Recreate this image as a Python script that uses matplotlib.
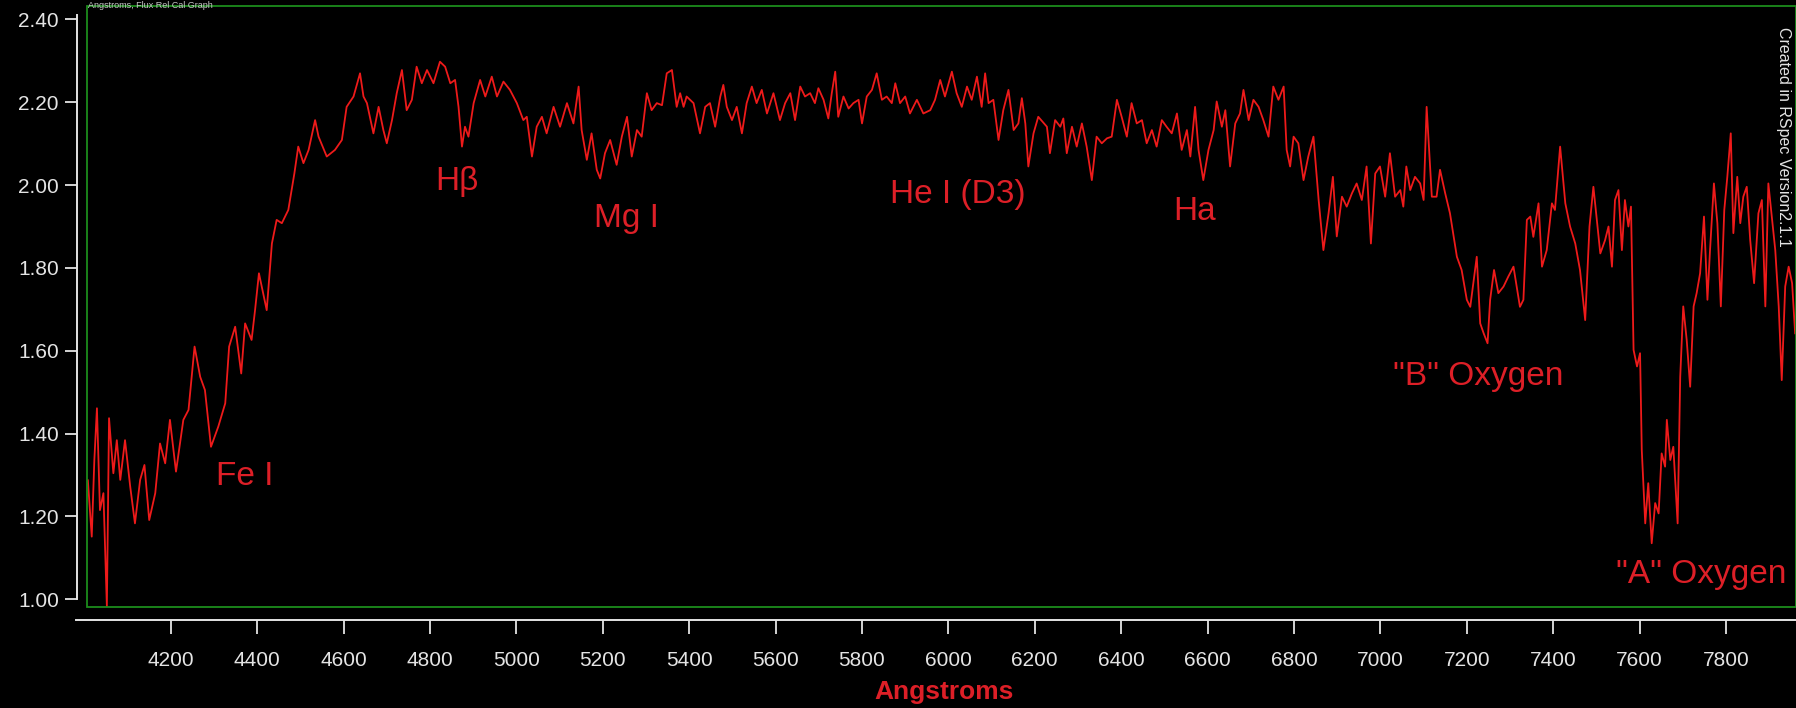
import matplotlib
matplotlib.use("Agg")
import matplotlib.pyplot as plt
from matplotlib.patches import Rectangle
from matplotlib.ticker import FixedLocator, FormatStrFormatter

plt.rcParams['font.family'] = ['Liberation Sans', 'DejaVu Sans']

# ---------------- data ----------------
wavelength = [
    4008, 4017, 4023, 4029, 4036, 4044, 4052, 4057, 4067, 4075, 4083, 4094, 4106, 4117, 4129,
    4139, 4150, 4164, 4175, 4187, 4198, 4212, 4229, 4241, 4255, 4268, 4279, 4293, 4310, 4326,
    4335, 4349, 4363, 4372, 4387, 4395, 4404, 4422, 4434, 4445, 4457, 4472, 4486, 4495, 4507,
    4519, 4534, 4542, 4561, 4580, 4596,
    4607, 4623, 4638, 4646, 4654, 4669, 4681, 4692, 4700, 4712, 4723, 4735, 4746, 4758, 4769,
    4781, 4793, 4808, 4823, 4835, 4847, 4858, 4866, 4874, 4881, 4889, 4901, 4916, 4928, 4943,
    4955, 4970, 4985, 5001, 5016, 5024, 5036, 5047, 5059, 5070, 5086, 5101, 5117, 5132, 5144,
    5151, 5163, 5174, 5186, 5194, 5205, 5217, 5232, 5244, 5256, 5267, 5279, 5290, 5302, 5313,
    5325, 5337, 5348, 5360, 5371, 5379, 5387, 5394, 5410,
    5425, 5437, 5448, 5460, 5472, 5479, 5487, 5499, 5510, 5522, 5533, 5545, 5556, 5568, 5580,
    5595, 5610, 5622, 5634, 5645, 5657, 5668, 5680, 5691, 5699, 5711, 5722, 5730, 5738, 5745,
    5757, 5769, 5780, 5792, 5800, 5811, 5823, 5834, 5846, 5857, 5869, 5877, 5888, 5900, 5911,
    5927, 5942, 5958, 5969, 5981, 5992, 6008, 6019, 6031, 6043, 6054, 6066, 6077, 6085, 6093,
    6104, 6116, 6127, 6139, 6151, 6162, 6170, 6178, 6185, 6197, 6208,
    6228, 6235, 6247, 6259, 6266, 6274, 6286, 6297, 6309, 6320, 6332, 6343, 6355, 6367, 6378,
    6390, 6401, 6413, 6424, 6436, 6448, 6459, 6471, 6482, 6494, 6505, 6517, 6529, 6540, 6552,
    6560, 6571, 6579, 6590, 6602, 6614, 6621, 6633, 6641, 6652, 6664, 6675, 6683, 6695, 6706,
    6718, 6729, 6741, 6752, 6764, 6776, 6783, 6791, 6799, 6810, 6822, 6833, 6845, 6857, 6868,
    6880, 6890, 6899, 6911, 6922, 6934, 6945, 6957, 6968, 6978, 6988, 6999, 7011,
    7022, 7034, 7046, 7053, 7060, 7069, 7080, 7092, 7100, 7107, 7119, 7130, 7138, 7150, 7161,
    7177, 7188, 7200, 7208, 7215, 7223, 7231, 7239, 7248, 7254, 7263, 7273, 7285, 7296, 7308,
    7323, 7331, 7339, 7347, 7354, 7366, 7374, 7385, 7397, 7404, 7416, 7428, 7439, 7451, 7462,
    7474, 7484, 7493,
    7509, 7520, 7528, 7536, 7543, 7551, 7559, 7566, 7574, 7580, 7586, 7594, 7601, 7605, 7613,
    7620, 7628, 7636, 7644, 7651, 7659, 7663, 7671, 7678, 7688, 7694, 7701, 7709, 7717, 7725,
    7732, 7740, 7749, 7757, 7763, 7772, 7780, 7788, 7796, 7803, 7811, 7817, 7826, 7833, 7840,
    7848, 7856, 7865, 7875, 7883, 7891, 7898, 7906, 7914, 7922, 7929, 7937, 7945, 7953, 7960,
]

flux = [
    1.287, 1.151, 1.336, 1.461, 1.215, 1.256, 0.982, 1.437, 1.304, 1.384, 1.288, 1.384, 1.272, 1.183, 1.288,
    1.324, 1.191, 1.256, 1.376, 1.328, 1.433, 1.308, 1.433, 1.457, 1.610, 1.537, 1.505, 1.368, 1.417, 1.473,
    1.610, 1.658, 1.545, 1.666, 1.626, 1.698, 1.787, 1.698, 1.859, 1.916, 1.908, 1.940, 2.028, 2.093, 2.053,
    2.085, 2.157, 2.117, 2.069, 2.085, 2.109,
    2.189, 2.214, 2.270, 2.214, 2.198, 2.125, 2.189, 2.133, 2.101, 2.157, 2.222, 2.278, 2.181, 2.206, 2.286,
    2.246, 2.278, 2.246, 2.298, 2.286, 2.246, 2.254, 2.189, 2.093, 2.141, 2.117, 2.198, 2.254, 2.214, 2.262,
    2.214, 2.250, 2.230, 2.198, 2.157, 2.165, 2.069, 2.141, 2.165, 2.125, 2.189, 2.141, 2.198, 2.149, 2.238,
    2.133, 2.061, 2.125, 2.037, 2.016, 2.077, 2.109, 2.049, 2.117, 2.165, 2.069, 2.133, 2.117, 2.222, 2.181,
    2.198, 2.193, 2.270, 2.278, 2.189, 2.222, 2.189, 2.214, 2.198,
    2.125, 2.189, 2.198, 2.141, 2.214, 2.242, 2.189, 2.157, 2.189, 2.125, 2.198, 2.238, 2.198, 2.230, 2.173,
    2.222, 2.157, 2.198, 2.222, 2.157, 2.238, 2.214, 2.222, 2.198, 2.234, 2.206, 2.161, 2.222, 2.274, 2.165,
    2.214, 2.185, 2.198, 2.206, 2.149, 2.214, 2.230, 2.270, 2.206, 2.214, 2.198, 2.246, 2.198, 2.214, 2.173,
    2.206, 2.173, 2.181, 2.206, 2.254, 2.214, 2.274, 2.222, 2.189, 2.238, 2.206, 2.262, 2.189, 2.270, 2.198,
    2.206, 2.109, 2.181, 2.230, 2.133, 2.149, 2.210, 2.149, 2.045, 2.125, 2.165,
    2.141, 2.077, 2.157, 2.141, 2.161, 2.077, 2.141, 2.093, 2.149, 2.093, 2.012, 2.117, 2.101, 2.113, 2.117,
    2.206, 2.165, 2.117, 2.198, 2.149, 2.157, 2.101, 2.133, 2.093, 2.157, 2.141, 2.125, 2.173, 2.085, 2.133,
    2.069, 2.189, 2.085, 2.012, 2.085, 2.133, 2.202, 2.141, 2.181, 2.045, 2.149, 2.173, 2.230, 2.157, 2.206,
    2.189, 2.157, 2.117, 2.238, 2.206, 2.238, 2.085, 2.045, 2.117, 2.101, 2.012, 2.069, 2.117, 1.964, 1.843,
    1.932, 2.020, 1.876, 1.972, 1.948, 1.980, 2.004, 1.964, 2.045, 1.859, 2.028, 2.045, 1.972,
    2.077, 1.972, 1.988, 1.948, 2.045, 1.988, 2.020, 2.004, 1.964, 2.189, 1.972, 1.972, 2.037, 1.980, 1.932,
    1.827, 1.795, 1.723, 1.706, 1.763, 1.827, 1.666, 1.642, 1.618, 1.723, 1.795, 1.739, 1.755, 1.779, 1.803,
    1.706, 1.723, 1.916, 1.924, 1.875, 1.956, 1.803, 1.843, 1.956, 1.940, 2.093, 1.956, 1.900, 1.859, 1.795,
    1.674, 1.900, 1.996,
    1.835, 1.867, 1.900, 1.803, 1.964, 1.988, 1.843, 1.964, 1.900, 1.948, 1.602, 1.562, 1.594, 1.360, 1.183,
    1.280, 1.135, 1.232, 1.207, 1.352, 1.320, 1.433, 1.336, 1.368, 1.183, 1.537, 1.707, 1.626, 1.513, 1.707,
    1.739, 1.787, 1.924, 1.723, 1.843, 2.004, 1.908, 1.707, 1.940, 2.020, 2.125, 1.884, 2.020, 1.908, 1.972,
    1.996, 1.867, 1.763, 1.932, 1.964, 1.707, 2.004, 1.924, 1.843, 1.707, 1.529, 1.755, 1.803, 1.763, 1.642,
]

x_ticks = [4200, 4400, 4600, 4800, 5000, 5200, 5400, 5600, 5800, 6000,
           6200, 6400, 6600, 6800, 7000, 7200, 7400, 7600, 7800]
y_ticks = [1.00, 1.20, 1.40, 1.60, 1.80, 2.00, 2.20, 2.40]

line_names = ["Fe I", "Hβ", "Mg I", "He I (D3)", "Ha", '"B" Oxygen', '"A" Oxygen']
line_wave = [4370, 4863, 5254, 6022, 6569, 7226, 7742]
line_flux = [1.276, 1.988, 1.899, 1.957, 1.916, 1.517, 1.039]

x_label = "Angstroms"
title_text = "Angstroms, Flux Rel Cal Graph"
credit_text = "Created in RSpec Version2.1.1"

# ---------------- styling ----------------
W, H = 1796, 708
RED_LINE = "#ee1a1a"
RED_TEXT = "#dd1f27"
GREEN = "#1c8c1c"
AXIS_C = "#e4e4e4"

fig = plt.figure(figsize=(W / 100, H / 100), dpi=100, facecolor="black")
ax = fig.add_axes([87 / W, 1 - 607 / H, 1 - 87 / W, (607 - 6) / H])
ax.set_facecolor("black")

ax.plot(wavelength, flux, color=RED_LINE, lw=1.3, zorder=4)

ax.set_xlim(4006, 7962)
ax.set_ylim(0.981, 2.4326)

# green plot frame
for s in ("top", "right"):
    ax.spines[s].set_visible(False)
ax.add_patch(Rectangle((0, 0), 1, 1, transform=ax.transAxes, fill=False,
                       edgecolor=GREEN, lw=1.3, clip_on=False, zorder=5))

# detached white axes
ax.spines["left"].set_position(("outward", 7.2))
ax.spines["left"].set_color(AXIS_C)
ax.spines["left"].set_linewidth(1.4)
ax.spines["left"].set_bounds(1.0, 2.41)
ax.spines["bottom"].set_position(("outward", 9.4))
ax.spines["bottom"].set_color(AXIS_C)
ax.spines["bottom"].set_linewidth(1.4)
ax.spines["bottom"].set_bounds(3981, 7962)

ax.xaxis.set_major_locator(FixedLocator(x_ticks))
ax.yaxis.set_major_locator(FixedLocator(y_ticks))
ax.yaxis.set_major_formatter(FormatStrFormatter("%.2f"))
ax.tick_params(axis="y", direction="out", length=9, width=1.3, colors=AXIS_C,
               labelsize=15, pad=4)
ax.tick_params(axis="x", direction="out", length=10, width=1.3, colors=AXIS_C,
               labelsize=15, pad=12)

# spectral line labels
for name, wx, fy in zip(line_names, line_wave, line_flux):
    ax.text(wx, fy, name, color=RED_TEXT, fontsize=24, ha="center", va="baseline",
            zorder=6)

fig.text(944 / W, 1 - 692 / H, x_label, color=RED_TEXT, fontsize=19,
         fontweight="bold", ha="center", va="center")
fig.text(1784 / W, 1 - 27 / H, credit_text, color=AXIS_C, fontsize=11.5,
         rotation=270, ha="center", va="top")
fig.text(88 / W, 1 - 0.5 / H, title_text, color="#c8c8c8", fontsize=6.5,
         ha="left", va="top")

fig.savefig("out.png", dpi=100, facecolor="black")
